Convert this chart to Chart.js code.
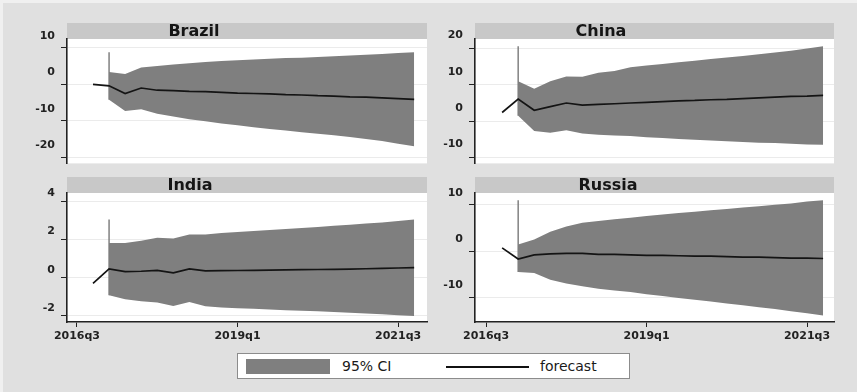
<!DOCTYPE html>
<html>
<head>
<meta charset="utf-8">
<script src="https://cdn.jsdelivr.net/npm/chart.js@4"></script>
<style>
  html, body { margin: 0; padding: 0; }
  body { width: 857px; height: 392px; position: relative; overflow: hidden; background: #f0f0f0; font-family: "DejaVu Sans", sans-serif; }
  #frame { position: absolute; left: 3px; top: 3px; right: 0; bottom: 0; background: #e0e0e0; }
  canvas { position: absolute; }
  #legend { position: absolute; left: 237px; top: 353px; width: 391px; height: 24px; background: #fff; border: 1px solid #8c8c8c; }
  #legend .sw { position: absolute; left: 8px; top: 5px; width: 84px; height: 15px; background: #7f7f7f; }
  #legend .ln { position: absolute; left: 208px; top: 12px; width: 83px; height: 1.6px; background: #111; }
  #legend .lt { position: absolute; top: 3px; font-size: 14px; line-height: 18px; color: #1a1a1a; white-space: nowrap; }
</style>
</head>
<body>
<div id="frame"></div>
<canvas id="p0" width="430" height="153" style="left:0px;top:23px"></canvas>
<canvas id="p1" width="429" height="153" style="left:408px;top:23px"></canvas>
<canvas id="p2" width="430" height="175" style="left:0px;top:177px"></canvas>
<canvas id="p3" width="429" height="175" style="left:408px;top:177px"></canvas>
<div id="legend">
  <span class="sw"></span><span class="lt" style="left:104px">95% CI</span>
  <span class="ln"></span><span class="lt" style="left:302px">forecast</span>
</div>
<script>
// Quarters shown on the forecast line (first one is the last observed quarter)
const quarters = ['2016q4','2017q1','2017q2','2017q3','2017q4','2018q1','2018q2','2018q3','2018q4',
  '2019q1','2019q2','2019q3','2019q4','2020q1','2020q2','2020q3','2020q4','2021q1','2021q2','2021q3','2021q4'];
const xTickLabels = ['2016q3', '2019q1', '2021q3'];

const countries = ['Brazil', 'China', 'India', 'Russia'];

const brazilForecast = [0.0, -0.4, -2.5, -1.0, -1.6, -1.7, -1.9, -2.0, -2.2, -2.4, -2.5, -2.6, -2.8, -2.9, -3.1, -3.2, -3.4, -3.5, -3.7, -3.9, -4.1];
const brazilUpper = [3.4, 2.8, 4.6, 5.0, 5.4, 5.8, 6.1, 6.4, 6.6, 6.8, 7.0, 7.2, 7.3, 7.5, 7.7, 7.9, 8.1, 8.3, 8.6, 8.8];
const brazilLower = [-4.2, -7.3, -6.8, -8.0, -8.8, -9.5, -10.1, -10.7, -11.2, -11.7, -12.2, -12.6, -13.1, -13.5, -13.9, -14.4, -14.9, -15.5, -16.2, -16.9];
const brazilTicks = [-20, -10, 0, 10];

const chinaForecast = [2.4, 6.1, 3.0, 4.0, 5.0, 4.4, 4.6, 4.8, 5.0, 5.2, 5.4, 5.6, 5.7, 5.9, 6.0, 6.2, 6.4, 6.6, 6.8, 6.9, 7.1];
const chinaUpper = [11.0, 8.9, 11.0, 12.3, 12.2, 13.3, 13.8, 14.8, 15.3, 15.7, 16.2, 16.6, 17.1, 17.5, 17.9, 18.4, 18.9, 19.4, 20.0, 20.6];
const chinaLower = [1.5, -2.7, -3.2, -2.5, -3.4, -3.7, -3.9, -4.1, -4.4, -4.6, -4.9, -5.1, -5.3, -5.5, -5.7, -5.9, -6.0, -6.2, -6.4, -6.5];
const chinaTicks = [-10, 0, 10, 20];

const indiaForecast = [-0.3, 0.46, 0.32, 0.34, 0.38, 0.26, 0.46, 0.36, 0.37, 0.38, 0.39, 0.40, 0.41, 0.42, 0.43, 0.44, 0.45, 0.47, 0.49, 0.51, 0.53];
const indiaUpper = [1.82, 1.82, 1.94, 2.1, 2.05, 2.26, 2.26, 2.34, 2.4, 2.45, 2.5, 2.55, 2.6, 2.66, 2.72, 2.78, 2.84, 2.9, 2.97, 3.05];
const indiaLower = [-0.92, -1.13, -1.23, -1.3, -1.48, -1.27, -1.5, -1.56, -1.6, -1.63, -1.66, -1.7, -1.73, -1.76, -1.8, -1.84, -1.88, -1.92, -1.96, -2.0];
const indiaTicks = [-2, 0, 2, 4];

const russiaForecast = [0.7, -1.7, -0.8, -0.6, -0.5, -0.5, -0.7, -0.7, -0.8, -0.9, -0.9, -1.0, -1.1, -1.1, -1.2, -1.3, -1.3, -1.4, -1.5, -1.5, -1.6];
const russiaUpper = [1.4, 2.5, 4.2, 5.3, 6.1, 6.5, 6.9, 7.2, 7.6, 7.9, 8.2, 8.5, 8.8, 9.1, 9.4, 9.7, 10.0, 10.3, 10.7, 11.0];
const russiaLower = [-4.5, -4.7, -6.2, -7.0, -7.6, -8.1, -8.5, -8.8, -9.3, -9.7, -10.1, -10.5, -10.9, -11.3, -11.7, -12.1, -12.5, -13.0, -13.4, -13.9];
const russiaTicks = [-10, 0, 10];

// Quarter label -> number of quarters after 2016q3
const BASE_YEAR = 2016, BASE_Q = 3;
function quarterIndex(label) {
  const y = parseInt(label.slice(0, 4), 10);
  const q = parseInt(label.slice(5), 10);
  return (y - BASE_YEAR) * 4 + (q - BASE_Q);
}
const xTickQuarters = xTickLabels.map(quarterIndex);

const INK = '#222222';
const CI_FILL = '#7f7f7f';
const TICK_FONT = { family: 'DejaVu Sans', size: 11, weight: 'bold' };

// Panel backdrop: white plot region plus the grey title strip above it
const panelDecor = {
  id: 'panelDecor',
  beforeDraw(chart, args, opts) {
    const { ctx, chartArea: a } = chart;
    ctx.save();
    ctx.fillStyle = '#ffffff';
    ctx.fillRect(a.left, a.top, a.right - a.left, a.bottom - a.top);
    ctx.fillStyle = '#c8c8c8';
    ctx.fillRect(a.left, a.top - opts.strip, a.right - a.left, opts.strip);
    ctx.fillStyle = '#151515';
    ctx.font = 'bold 16px "DejaVu Sans"';
    ctx.textAlign = 'center';
    ctx.textBaseline = 'middle';
    ctx.fillText(opts.title, a.left + opts.titleDx, a.top - opts.strip / 2 + 1);
    ctx.restore();
  }
};

const panels = [
  { id: 'p0', fc: brazilForecast, up: brazilUpper, lo: brazilLower, ticks: brazilTicks,
    ymin: -21.6, ymax: 12.4, xmin: -0.62, xmax: 21.8, bottomAxis: false, lift: -12, titleDx: 127 },
  { id: 'p1', fc: chinaForecast, up: chinaUpper, lo: chinaLower, ticks: chinaTicks,
    ymin: -11.6, ymax: 22.6, xmin: -0.69, xmax: 21.68, bottomAxis: false, lift: -13, titleDx: 126 },
  { id: 'p2', fc: indiaForecast, up: indiaUpper, lo: indiaLower, ticks: indiaTicks,
    ymin: -2.32, ymax: 4.44, xmin: -0.62, xmax: 21.8, bottomAxis: true, lift: -8, titleDx: 123 },
  { id: 'p3', fc: russiaForecast, up: russiaUpper, lo: russiaLower, ticks: russiaTicks,
    ymin: -15.3, ymax: 12.54, xmin: -0.69, xmax: 21.68, bottomAxis: true, lift: -12, titleDx: 133 }
];

panels.forEach((p, k) => {
  const fx = quarters.map(quarterIndex);
  const ciX = fx.slice(1);
  const datasets = [
    { label: 'lower', data: ciX.map((x, i) => ({ x, y: p.lo[i] })),
      borderColor: 'transparent', borderWidth: 0, pointRadius: 0, fill: false, order: 2 },
    { label: '95% CI', data: ciX.map((x, i) => ({ x, y: p.up[i] })),
      borderColor: 'transparent', borderWidth: 0, pointRadius: 0, fill: '-1', backgroundColor: CI_FILL, order: 2 },
    { label: 'band edge', data: [{ x: ciX[0], y: p.lo[0] }, { x: ciX[0], y: p.up[p.up.length - 1] }],
      borderColor: '#787878', borderWidth: 1.4, pointRadius: 0, fill: false, order: 1 },
    { label: 'forecast', data: fx.map((x, i) => ({ x, y: p.fc[i] })),
      borderColor: '#141414', borderWidth: 1.7, pointRadius: 0, fill: false, order: 0 }
  ];

  new Chart(document.getElementById(p.id), {
    type: 'line',
    data: { datasets },
    plugins: [panelDecor],
    options: {
      responsive: false,
      animation: false,
      devicePixelRatio: 1,
      layout: { padding: { top: 16, right: 3, bottom: p.bottomAxis ? 0 : 8, left: 0 } },
      elements: { line: { tension: 0 } },
      plugins: {
        legend: { display: false },
        tooltip: { enabled: false },
        filler: { propagate: false },
        panelDecor: { title: countries[k], strip: 16, titleDx: p.titleDx }
      },
      scales: {
        x: {
          type: 'linear',
          display: p.bottomAxis,
          min: p.xmin, max: p.xmax,
          afterBuildTicks: s => { s.ticks = xTickQuarters.map(v => ({ value: v })); },
          afterFit: s => { if (p.bottomAxis) s.height = 30; },
          border: { display: true, color: INK, width: 1.6 },
          grid: { drawOnChartArea: false, drawTicks: true, tickLength: 5, tickColor: INK },
          ticks: { callback: (v, i) => xTickLabels[i], font: TICK_FONT, color: '#222',
                   padding: 3, maxRotation: 0, autoSkip: false }
        },
        y: {
          type: 'linear',
          min: p.ymin, max: p.ymax,
          afterBuildTicks: s => { s.ticks = p.ticks.map(v => ({ value: v })); },
          afterFit: s => { s.width = 67; },
          border: { display: true, color: INK, width: 1.6 },
          grid: { color: '#ebebeb', lineWidth: 1, drawTicks: true, tickLength: 6, tickColor: INK },
          ticks: { font: TICK_FONT, color: '#222', padding: 6, labelOffset: p.lift }
        }
      }
    }
  });
});
</script>
</body>
</html>
